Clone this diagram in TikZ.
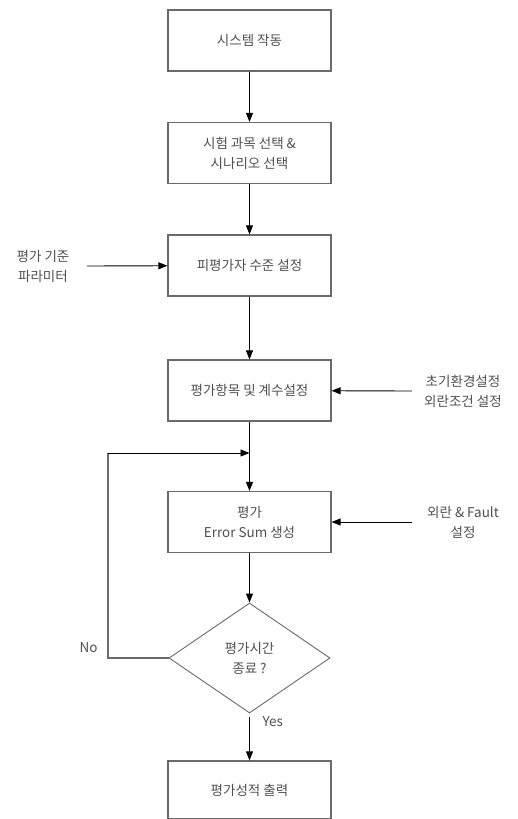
\documentclass[tikz,border=0pt]{standalone}
\usepackage{fontspec}
\setmainfont{Noto Sans CJK KR}
\usetikzlibrary{shapes.geometric,arrows.meta}
\definecolor{txt}{HTML}{505050}
\definecolor{bord}{HTML}{6A6A6A}
\tikzset{
  procbox/.style={draw=bord, line width=1.2pt, minimum width=163pt, minimum height=61pt, inner sep=0pt, align=center, text=txt, font=\fontsize{13.5}{20}\selectfont},
  decbox/.style={draw=bord, line width=0.9pt, diamond, minimum width=161pt, minimum height=110pt, inner sep=0pt, align=center, text=txt, font=\fontsize{13.5}{20}\selectfont},
  lbl/.style={align=center, text=txt, font=\fontsize{13.5}{20}\selectfont},
  flow/.style={draw=black, line width=0.9pt, -{Triangle[length=9pt,width=7pt]}},
  plain/.style={draw=bord, line width=1.1pt}
}
\begin{document}
\begin{tikzpicture}[x=1pt,y=1pt]
\useasboundingbox (0,0) rectangle (517,-819);
\node[procbox] (s1) at (249.5,-40.5) {시스템 작동};
\node[procbox] (s2) at (249.5,-153) {시험 과목 선택 \&\\시나리오 선택};
\node[procbox] (s3) at (249.5,-265.5) {피평가자 수준 설정};
\node[procbox] (s4) at (249.5,-390.5) {평가항목 및 계수설정};
\node[procbox] (s5) at (249.5,-522) {평가\\Error Sum 생성};
\node[decbox] (d1) at (249.5,-658) {평가시간\\종료 ?};
\node[procbox, minimum height=58pt] (s6) at (249.5,-790) {평가성적 출력};

\node[lbl] (in1) at (43,-266) {평가 기준\\파라미터};
\node[lbl] (in2) at (463,-391) {초기환경설정\\외란조건 설정};
\node[lbl] (in3) at (463,-522) {외란 \& Fault\\설정};

\coordinate (in1e) at (87,-266);
\coordinate (in2e) at (412,-391);
\coordinate (in3e) at (412,-522);
\coordinate (merge) at (249.5,-453);
\coordinate (loopL) at (108,-658);
\coordinate (loopT) at (108,-453);
\coordinate (yesS) at (249.5,-717);

\draw[flow] (s1) -- (s2);
\draw[flow] (s2) -- (s3);
\draw[flow] (s3) -- (s4);
\draw[flow] (s4) -- (s5);
\draw[flow] (s5) -- (d1);
\draw[flow] (yesS) -- (s6);
\draw[flow] (in1e) -- (s3);
\draw[flow] (in2e) -- (s4);
\draw[flow] (in3e) -- (s5);
\draw[plain] (d1.west) -- (loopL) -- (loopT);
\draw[flow] (loopT) -- (merge);

\node[lbl, anchor=east] (no) at (101,-648) {No};
\node[lbl, anchor=west] (yes) at (259,-722) {Yes};
\end{tikzpicture}
\end{document}
